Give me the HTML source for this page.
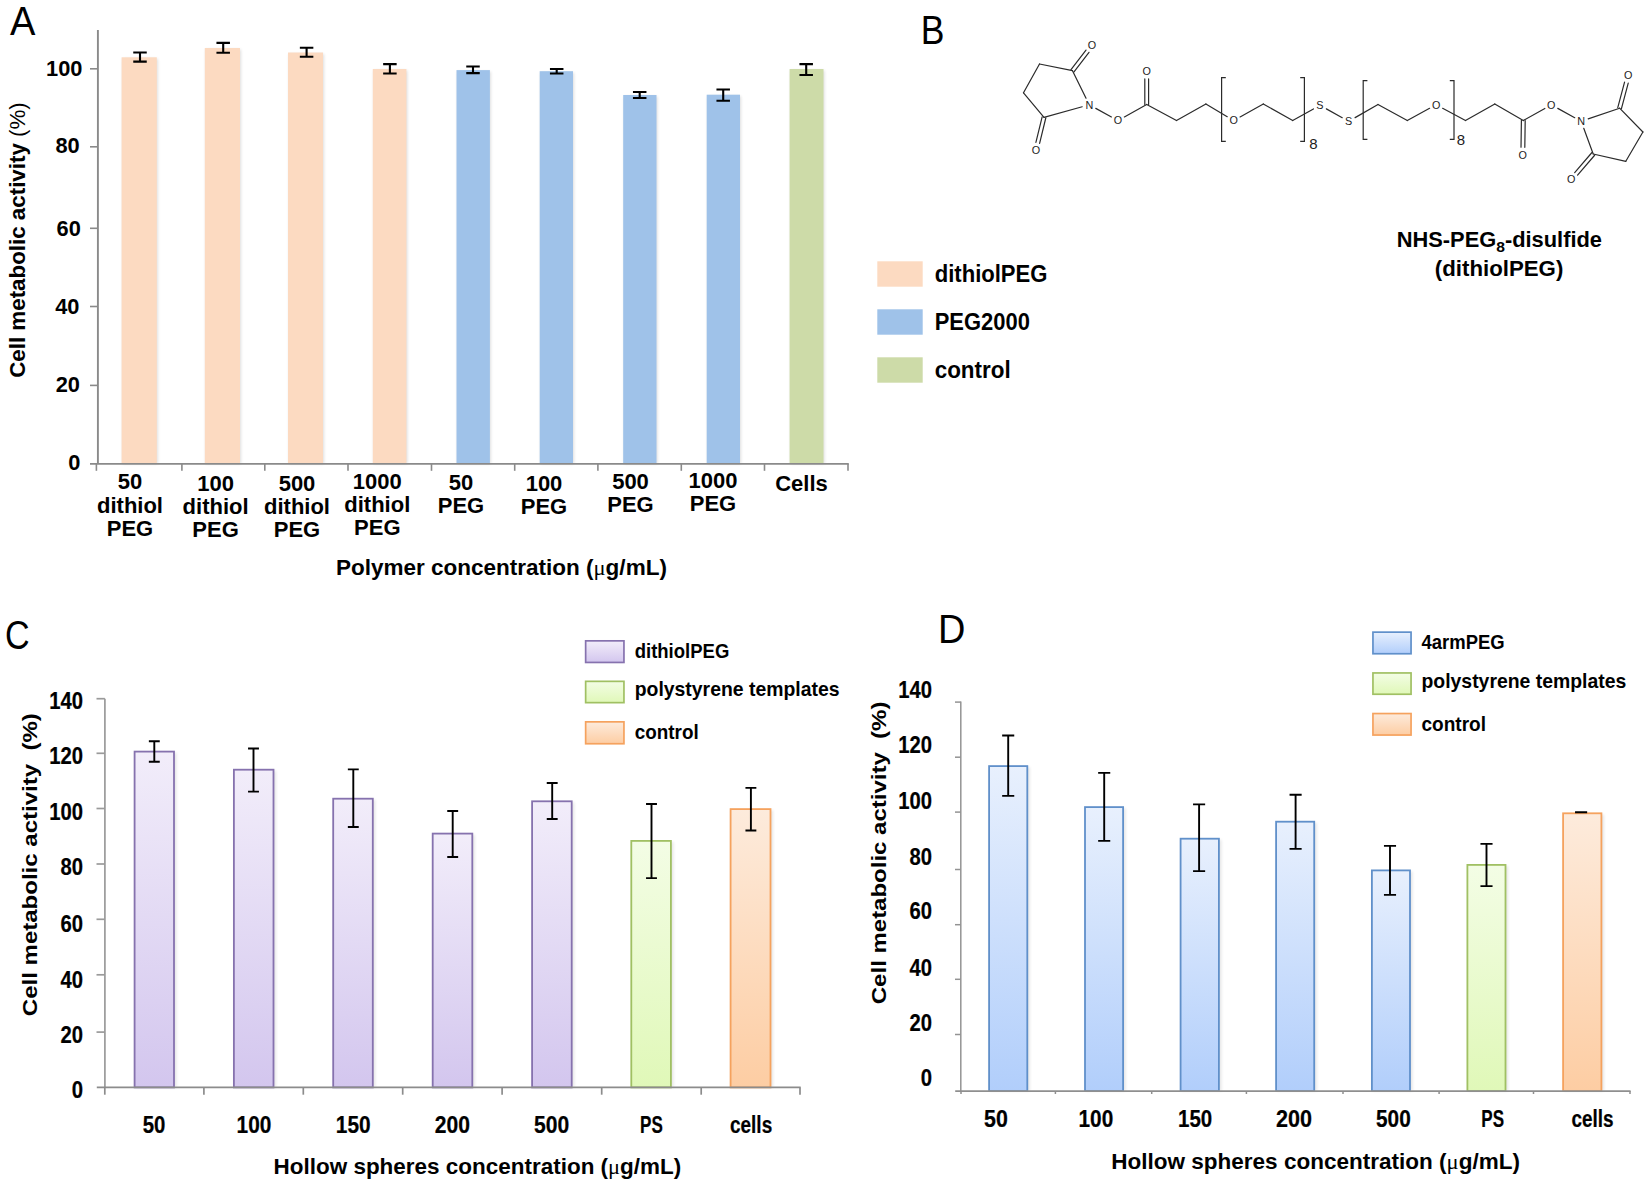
<!DOCTYPE html>
<html lang="en"><head><meta charset="utf-8"><title>Cell metabolic activity figure</title>
<style>html,body{margin:0;padding:0;background:#fff}svg{display:block}text{font-family:'Liberation Sans', sans-serif}</style>
</head><body>
<svg width="1650" height="1186" viewBox="0 0 1650 1186">
<defs>
<linearGradient id="gp" x1="0" y1="0" x2="0" y2="1"><stop offset="0" stop-color="#f2edfa"/><stop offset="1" stop-color="#d3c6ee"/></linearGradient>
<linearGradient id="gg" x1="0" y1="0" x2="0" y2="1"><stop offset="0" stop-color="#f3fde5"/><stop offset="1" stop-color="#e0f8b8"/></linearGradient>
<linearGradient id="go" x1="0" y1="0" x2="0" y2="1"><stop offset="0" stop-color="#fdebdc"/><stop offset="1" stop-color="#fdcda3"/></linearGradient>
<linearGradient id="gb" x1="0" y1="0" x2="0" y2="1"><stop offset="0" stop-color="#e8f0fd"/><stop offset="1" stop-color="#b1cefb"/></linearGradient>
<filter id="sh" x="-30%" y="-5%" width="160%" height="110%"><feGaussianBlur stdDeviation="1.6"/></filter>
</defs>
<rect width="1650" height="1186" fill="#fff"/>
<g id="panelA">
<text x="9.9" y="35" font-size="40" textLength="25.4" lengthAdjust="spacingAndGlyphs">A</text>
<rect x="122.6" y="58.8" width="35.2" height="405.1" fill="#000" opacity="0.13" filter="url(#sh)"/>
<rect x="205.8" y="49.5" width="35.2" height="414.4" fill="#000" opacity="0.13" filter="url(#sh)"/>
<rect x="289" y="54" width="35" height="409.9" fill="#000" opacity="0.13" filter="url(#sh)"/>
<rect x="373.8" y="70.5" width="33.6" height="393.4" fill="#000" opacity="0.13" filter="url(#sh)"/>
<rect x="457.5" y="71.6" width="33.4" height="392.3" fill="#000" opacity="0.13" filter="url(#sh)"/>
<rect x="540.7" y="72.7" width="33.3" height="391.2" fill="#000" opacity="0.13" filter="url(#sh)"/>
<rect x="624.2" y="96.5" width="33.3" height="367.4" fill="#000" opacity="0.13" filter="url(#sh)"/>
<rect x="707.7" y="96.2" width="33.3" height="367.7" fill="#000" opacity="0.13" filter="url(#sh)"/>
<rect x="790.6" y="70.5" width="33.9" height="393.4" fill="#000" opacity="0.13" filter="url(#sh)"/>
<rect x="121.6" y="57.3" width="35.2" height="406.6" fill="#fcdac1"/>
<rect x="204.8" y="48" width="35.2" height="415.9" fill="#fcdac1"/>
<rect x="288" y="52.5" width="35" height="411.4" fill="#fcdac1"/>
<rect x="372.8" y="69" width="33.6" height="394.9" fill="#fcdac1"/>
<rect x="456.5" y="70.1" width="33.4" height="393.8" fill="#9fc2e9"/>
<rect x="539.7" y="71.2" width="33.3" height="392.7" fill="#9fc2e9"/>
<rect x="623.2" y="95" width="33.3" height="368.9" fill="#9fc2e9"/>
<rect x="706.7" y="94.7" width="33.3" height="369.2" fill="#9fc2e9"/>
<rect x="789.6" y="69" width="33.9" height="394.9" fill="#cddba8"/>
<line x1="97.9" y1="30" x2="97.9" y2="463.9" stroke="#8a8a8a" stroke-width="1.9"/>
<line x1="90" y1="463.9" x2="848.8" y2="463.9" stroke="#8a8a8a" stroke-width="1.8"/>
<line x1="90" y1="68.8" x2="98" y2="68.8" stroke="#8a8a8a" stroke-width="1.6"/>
<line x1="90" y1="146.8" x2="98" y2="146.8" stroke="#8a8a8a" stroke-width="1.6"/>
<line x1="90" y1="228.3" x2="98" y2="228.3" stroke="#8a8a8a" stroke-width="1.6"/>
<line x1="90" y1="306.5" x2="98" y2="306.5" stroke="#8a8a8a" stroke-width="1.6"/>
<line x1="90" y1="385.4" x2="98" y2="385.4" stroke="#8a8a8a" stroke-width="1.6"/>
<line x1="96.4" y1="463.9" x2="96.4" y2="470.8" stroke="#8a8a8a" stroke-width="1.6"/>
<line x1="181.9" y1="463.9" x2="181.9" y2="470.8" stroke="#8a8a8a" stroke-width="1.6"/>
<line x1="264.8" y1="463.9" x2="264.8" y2="470.8" stroke="#8a8a8a" stroke-width="1.6"/>
<line x1="348" y1="463.9" x2="348" y2="470.8" stroke="#8a8a8a" stroke-width="1.6"/>
<line x1="431.5" y1="463.9" x2="431.5" y2="470.8" stroke="#8a8a8a" stroke-width="1.6"/>
<line x1="514.7" y1="463.9" x2="514.7" y2="470.8" stroke="#8a8a8a" stroke-width="1.6"/>
<line x1="597.9" y1="463.9" x2="597.9" y2="470.8" stroke="#8a8a8a" stroke-width="1.6"/>
<line x1="681.3" y1="463.9" x2="681.3" y2="470.8" stroke="#8a8a8a" stroke-width="1.6"/>
<line x1="764.5" y1="463.9" x2="764.5" y2="470.8" stroke="#8a8a8a" stroke-width="1.6"/>
<line x1="848" y1="463.9" x2="848" y2="470.8" stroke="#8a8a8a" stroke-width="1.6"/>
<text x="82.4" y="75.6" font-size="21.8" text-anchor="end" font-weight="bold">100</text>
<text x="79.7" y="152.6" font-size="21.8" text-anchor="end" font-weight="bold">80</text>
<text x="80.8" y="236.4" font-size="21.8" text-anchor="end" font-weight="bold">60</text>
<text x="79.5" y="313.7" font-size="21.8" text-anchor="end" font-weight="bold">40</text>
<text x="79.9" y="392" font-size="21.8" text-anchor="end" font-weight="bold">20</text>
<text x="80.3" y="470.2" font-size="21.8" text-anchor="end" font-weight="bold">0</text>
<path d="M133.25 52.55H146.75M133.25 61.65H146.75M140 52.55V61.65" stroke="#000" stroke-width="2.1" fill="none"/>
<path d="M216.45 42.85H229.95M216.45 52.75H229.95M223.2 42.85V52.75" stroke="#000" stroke-width="2.1" fill="none"/>
<path d="M299.85 47.75H313.35M299.85 56.75H313.35M306.6 47.75V56.75" stroke="#000" stroke-width="2.1" fill="none"/>
<path d="M383.15 64.15H396.65M383.15 73.45H396.65M389.9 64.15V73.45" stroke="#000" stroke-width="2.1" fill="none"/>
<path d="M466.25 66.45H479.75M466.25 73.15H479.75M473 66.45V73.15" stroke="#000" stroke-width="2.1" fill="none"/>
<path d="M549.95 68.95H563.45M549.95 73.55H563.45M556.7 68.95V73.55" stroke="#000" stroke-width="2.1" fill="none"/>
<path d="M632.95 92.05H646.45M632.95 97.95H646.45M639.7 92.05V97.95" stroke="#000" stroke-width="2.1" fill="none"/>
<path d="M716.45 89.55H729.95M716.45 100.75H729.95M723.2 89.55V100.75" stroke="#000" stroke-width="2.1" fill="none"/>
<path d="M799.45 64.15H812.95M799.45 74.95H812.95M806.2 64.15V74.95" stroke="#000" stroke-width="2.1" fill="none"/>
<text x="130" y="489.3" font-size="22" text-anchor="middle" font-weight="bold">50</text>
<text x="130" y="512.5" font-size="22" text-anchor="middle" font-weight="bold">dithiol</text>
<text x="130" y="535.7" font-size="22" text-anchor="middle" font-weight="bold">PEG</text>
<text x="215.6" y="490.7" font-size="22" text-anchor="middle" font-weight="bold">100</text>
<text x="215.6" y="513.9" font-size="22" text-anchor="middle" font-weight="bold">dithiol</text>
<text x="215.6" y="537.1" font-size="22" text-anchor="middle" font-weight="bold">PEG</text>
<text x="297" y="490.7" font-size="22" text-anchor="middle" font-weight="bold">500</text>
<text x="297" y="513.9" font-size="22" text-anchor="middle" font-weight="bold">dithiol</text>
<text x="297" y="537.1" font-size="22" text-anchor="middle" font-weight="bold">PEG</text>
<text x="377.3" y="488.8" font-size="22" text-anchor="middle" font-weight="bold">1000</text>
<text x="377.3" y="512" font-size="22" text-anchor="middle" font-weight="bold">dithiol</text>
<text x="377.3" y="535.2" font-size="22" text-anchor="middle" font-weight="bold">PEG</text>
<text x="461" y="489.9" font-size="22" text-anchor="middle" font-weight="bold">50</text>
<text x="461" y="513.1" font-size="22" text-anchor="middle" font-weight="bold">PEG</text>
<text x="544" y="491.2" font-size="22" text-anchor="middle" font-weight="bold">100</text>
<text x="544" y="514.4" font-size="22" text-anchor="middle" font-weight="bold">PEG</text>
<text x="630.5" y="488.8" font-size="22" text-anchor="middle" font-weight="bold">500</text>
<text x="630.5" y="512" font-size="22" text-anchor="middle" font-weight="bold">PEG</text>
<text x="713" y="488" font-size="22" text-anchor="middle" font-weight="bold">1000</text>
<text x="713" y="511.2" font-size="22" text-anchor="middle" font-weight="bold">PEG</text>
<text x="801.5" y="490.7" font-size="22" text-anchor="middle" font-weight="bold">Cells</text>
<text x="335.9" y="574.7" font-size="22" textLength="331" lengthAdjust="spacingAndGlyphs" font-weight="bold">Polymer concentration (<tspan font-family="'Liberation Serif', serif" font-weight="normal">μ</tspan>g/mL)</text>
<text transform="translate(24.9 377.8) rotate(-90)" font-size="22.2" font-weight="bold" textLength="275.6" lengthAdjust="spacingAndGlyphs">Cell metabolic activity <tspan font-weight="normal">(%)</tspan></text>
<rect x="877.3" y="261.3" width="45.4" height="25.4" fill="#fcdac1"/>
<text x="934.7" y="281.7" font-size="23.2" textLength="112.8" lengthAdjust="spacingAndGlyphs" font-weight="bold">dithiolPEG</text>
<rect x="877.3" y="309.3" width="45.4" height="25.4" fill="#9fc2e9"/>
<text x="934.7" y="329.7" font-size="23.2" textLength="95.2" lengthAdjust="spacingAndGlyphs" font-weight="bold">PEG2000</text>
<rect x="877.3" y="357.3" width="45.4" height="25.4" fill="#cddba8"/>
<text x="934.7" y="377.7" font-size="23.2" textLength="76" lengthAdjust="spacingAndGlyphs" font-weight="bold">control</text>
</g>
<g id="panelB">
<text x="920.8" y="43.9" font-size="40" textLength="23.7" lengthAdjust="spacingAndGlyphs">B</text>
<g stroke-linecap="round">
<line x1="1086.03" y1="98.16" x2="1072.5" y2="70.7" stroke="#2b2b2b" stroke-width="1.2"/>
<line x1="1072.5" y1="70.7" x2="1039.5" y2="64" stroke="#2b2b2b" stroke-width="1.2"/>
<line x1="1039.5" y1="64" x2="1023.5" y2="92.8" stroke="#2b2b2b" stroke-width="1.2"/>
<line x1="1023.5" y1="92.8" x2="1044" y2="117.3" stroke="#2b2b2b" stroke-width="1.2"/>
<line x1="1044" y1="117.3" x2="1082.17" y2="106.77" stroke="#2b2b2b" stroke-width="1.2"/>
<line x1="1095.79" y1="108.36" x2="1111.41" y2="116.94" stroke="#2b2b2b" stroke-width="1.2"/>
<line x1="1124.37" y1="116.91" x2="1146.7" y2="104.5" stroke="#2b2b2b" stroke-width="1.2"/>
<line x1="1146.7" y1="104.5" x2="1176.5" y2="120.5" stroke="#2b2b2b" stroke-width="1.2"/>
<line x1="1176.5" y1="120.5" x2="1205.9" y2="104" stroke="#2b2b2b" stroke-width="1.2"/>
<line x1="1205.9" y1="104" x2="1227.24" y2="116.71" stroke="#2b2b2b" stroke-width="1.2"/>
<line x1="1240.07" y1="116.91" x2="1263.3" y2="104" stroke="#2b2b2b" stroke-width="1.2"/>
<line x1="1263.3" y1="104" x2="1292.7" y2="120.5" stroke="#2b2b2b" stroke-width="1.2"/>
<line x1="1292.7" y1="120.5" x2="1313.44" y2="108.91" stroke="#2b2b2b" stroke-width="1.2"/>
<line x1="1326.37" y1="108.89" x2="1342.23" y2="117.71" stroke="#2b2b2b" stroke-width="1.2"/>
<line x1="1355.12" y1="117.62" x2="1378" y2="104.5" stroke="#2b2b2b" stroke-width="1.2"/>
<line x1="1378" y1="104.5" x2="1407.3" y2="120.5" stroke="#2b2b2b" stroke-width="1.2"/>
<line x1="1407.3" y1="120.5" x2="1429.6" y2="108.34" stroke="#2b2b2b" stroke-width="1.2"/>
<line x1="1442.63" y1="108.29" x2="1465.5" y2="120.5" stroke="#2b2b2b" stroke-width="1.2"/>
<line x1="1465.5" y1="120.5" x2="1494.8" y2="104" stroke="#2b2b2b" stroke-width="1.2"/>
<line x1="1494.8" y1="104" x2="1523.3" y2="120.5" stroke="#2b2b2b" stroke-width="1.2"/>
<line x1="1523.3" y1="120.5" x2="1544.85" y2="108.42" stroke="#2b2b2b" stroke-width="1.2"/>
<line x1="1557.78" y1="108.38" x2="1574.72" y2="117.72" stroke="#2b2b2b" stroke-width="1.2"/>
<line x1="1588.2" y1="118.91" x2="1619.6" y2="108.2" stroke="#2b2b2b" stroke-width="1.2"/>
<line x1="1583.75" y1="128.25" x2="1593.2" y2="154" stroke="#2b2b2b" stroke-width="1.2"/>
<line x1="1619.6" y1="108.2" x2="1642.9" y2="132" stroke="#2b2b2b" stroke-width="1.2"/>
<line x1="1642.9" y1="132" x2="1625.8" y2="161.3" stroke="#2b2b2b" stroke-width="1.2"/>
<line x1="1625.8" y1="161.3" x2="1593.2" y2="154" stroke="#2b2b2b" stroke-width="1.2"/>
<line x1="1074.01" y1="71.86" x2="1089" y2="52.33" stroke="#2b2b2b" stroke-width="1.2"/>
<line x1="1070.99" y1="69.54" x2="1085.99" y2="50.01" stroke="#2b2b2b" stroke-width="1.2"/>
<line x1="1042.15" y1="116.85" x2="1035.91" y2="142.46" stroke="#2b2b2b" stroke-width="1.2"/>
<line x1="1045.85" y1="117.75" x2="1039.6" y2="143.36" stroke="#2b2b2b" stroke-width="1.2"/>
<line x1="1148.6" y1="104.5" x2="1148.6" y2="78.9" stroke="#2b2b2b" stroke-width="1.2"/>
<line x1="1144.8" y1="104.5" x2="1144.8" y2="78.9" stroke="#2b2b2b" stroke-width="1.2"/>
<line x1="1521.4" y1="120.47" x2="1521.01" y2="147.27" stroke="#2b2b2b" stroke-width="1.2"/>
<line x1="1525.2" y1="120.53" x2="1524.81" y2="147.33" stroke="#2b2b2b" stroke-width="1.2"/>
<line x1="1621.44" y1="108.69" x2="1628.23" y2="83.14" stroke="#2b2b2b" stroke-width="1.2"/>
<line x1="1617.76" y1="107.71" x2="1624.56" y2="82.16" stroke="#2b2b2b" stroke-width="1.2"/>
<line x1="1591.76" y1="152.76" x2="1574.69" y2="172.55" stroke="#2b2b2b" stroke-width="1.2"/>
<line x1="1594.64" y1="155.24" x2="1577.57" y2="175.04" stroke="#2b2b2b" stroke-width="1.2"/>
</g>
<path d="M1225.8 77.6H1221.6V141.4H1225.8" fill="none" stroke="#2b2b2b" stroke-width="1.2"/>
<path d="M1300.2 77.6H1304.4V141.4H1300.2" fill="none" stroke="#2b2b2b" stroke-width="1.2"/>
<path d="M1367.4 80.6H1363.2V139.3H1367.4" fill="none" stroke="#2b2b2b" stroke-width="1.2"/>
<path d="M1449.8 80.6H1454V139.3H1449.8" fill="none" stroke="#2b2b2b" stroke-width="1.2"/>
<text x="1089.3" y="108.6" font-size="10.8" text-anchor="middle" fill="#222">N</text>
<text x="1092" y="49.1" font-size="10.8" text-anchor="middle" fill="#222">O</text>
<text x="1036" y="153.9" font-size="10.8" text-anchor="middle" fill="#222">O</text>
<text x="1117.9" y="124.3" font-size="10.8" text-anchor="middle" fill="#222">O</text>
<text x="1146.7" y="75.3" font-size="10.8" text-anchor="middle" fill="#222">O</text>
<text x="1233.6" y="124.3" font-size="10.8" text-anchor="middle" fill="#222">O</text>
<text x="1319.9" y="109.1" font-size="10.8" text-anchor="middle" fill="#222">S</text>
<text x="1348.7" y="125.1" font-size="10.8" text-anchor="middle" fill="#222">S</text>
<text x="1436.1" y="108.6" font-size="10.8" text-anchor="middle" fill="#222">O</text>
<text x="1522.8" y="158.5" font-size="10.8" text-anchor="middle" fill="#222">O</text>
<text x="1551.3" y="108.6" font-size="10.8" text-anchor="middle" fill="#222">O</text>
<text x="1581.2" y="125.1" font-size="10.8" text-anchor="middle" fill="#222">N</text>
<text x="1628.3" y="79.3" font-size="10.8" text-anchor="middle" fill="#222">O</text>
<text x="1571.3" y="183.2" font-size="10.8" text-anchor="middle" fill="#222">O</text>
<text x="1309.2" y="149.1" font-size="15" fill="#222">8</text>
<text x="1456.8" y="144.8" font-size="15" fill="#222">8</text>
<text x="1396.7" y="246.7" font-size="21.6" font-weight="bold" textLength="205.3" lengthAdjust="spacingAndGlyphs">NHS-PEG<tspan font-size="15.5" dy="5.5">8</tspan><tspan dy="-5.5">-disulfide</tspan></text>
<text x="1434.8" y="276" font-size="21.6" textLength="128.5" lengthAdjust="spacingAndGlyphs" font-weight="bold">(dithiolPEG)</text>
</g>
<g id="panelC">
<text x="5" y="649" font-size="40" textLength="24.6" lengthAdjust="spacingAndGlyphs">C</text>
<rect x="135.3" y="752.7" width="41.2" height="334.7" fill="#000" opacity="0.10" filter="url(#sh)"/>
<rect x="234.6" y="770.8" width="41.4" height="316.6" fill="#000" opacity="0.10" filter="url(#sh)"/>
<rect x="333.9" y="799.8" width="41.4" height="287.6" fill="#000" opacity="0.10" filter="url(#sh)"/>
<rect x="433.4" y="834.7" width="41.4" height="252.7" fill="#000" opacity="0.10" filter="url(#sh)"/>
<rect x="532.8" y="802.4" width="41.4" height="285" fill="#000" opacity="0.10" filter="url(#sh)"/>
<rect x="632" y="842" width="41.4" height="245.4" fill="#000" opacity="0.10" filter="url(#sh)"/>
<rect x="731.3" y="810.2" width="41.7" height="277.2" fill="#000" opacity="0.10" filter="url(#sh)"/>
<rect x="134.6" y="751.6" width="39.4" height="335.8" fill="url(#gp)" stroke="#8672ae" stroke-width="1.8"/>
<rect x="233.9" y="769.7" width="39.6" height="317.7" fill="url(#gp)" stroke="#8672ae" stroke-width="1.8"/>
<rect x="333.2" y="798.7" width="39.6" height="288.7" fill="url(#gp)" stroke="#8672ae" stroke-width="1.8"/>
<rect x="432.7" y="833.6" width="39.6" height="253.8" fill="url(#gp)" stroke="#8672ae" stroke-width="1.8"/>
<rect x="532.1" y="801.3" width="39.6" height="286.1" fill="url(#gp)" stroke="#8672ae" stroke-width="1.8"/>
<rect x="631.3" y="840.9" width="39.6" height="246.5" fill="url(#gg)" stroke="#a0c063" stroke-width="1.8"/>
<rect x="730.6" y="809.1" width="39.9" height="278.3" fill="url(#go)" stroke="#f5a25e" stroke-width="1.8"/>
<line x1="104.9" y1="698.7" x2="104.9" y2="1087.4" stroke="#9a9a9a" stroke-width="1.7"/>
<line x1="96.5" y1="698.7" x2="104.9" y2="698.7" stroke="#9a9a9a" stroke-width="1.7"/>
<line x1="96.5" y1="753.3" x2="104.9" y2="753.3" stroke="#9a9a9a" stroke-width="1.7"/>
<line x1="96.5" y1="808.5" x2="104.9" y2="808.5" stroke="#9a9a9a" stroke-width="1.7"/>
<line x1="96.5" y1="864" x2="104.9" y2="864" stroke="#9a9a9a" stroke-width="1.7"/>
<line x1="96.5" y1="919.3" x2="104.9" y2="919.3" stroke="#9a9a9a" stroke-width="1.7"/>
<line x1="96.5" y1="974.8" x2="104.9" y2="974.8" stroke="#9a9a9a" stroke-width="1.7"/>
<line x1="96.5" y1="1032.1" x2="104.9" y2="1032.1" stroke="#9a9a9a" stroke-width="1.7"/>
<line x1="96.8" y1="1087.4" x2="800.7" y2="1087.4" stroke="#8c8c8c" stroke-width="1.9"/>
<line x1="104.8" y1="1087.4" x2="104.8" y2="1094.7" stroke="#8c8c8c" stroke-width="1.7"/>
<line x1="203.9" y1="1087.4" x2="203.9" y2="1094.7" stroke="#8c8c8c" stroke-width="1.7"/>
<line x1="303.3" y1="1087.4" x2="303.3" y2="1094.7" stroke="#8c8c8c" stroke-width="1.7"/>
<line x1="402.7" y1="1087.4" x2="402.7" y2="1094.7" stroke="#8c8c8c" stroke-width="1.7"/>
<line x1="502.1" y1="1087.4" x2="502.1" y2="1094.7" stroke="#8c8c8c" stroke-width="1.7"/>
<line x1="601.7" y1="1087.4" x2="601.7" y2="1094.7" stroke="#8c8c8c" stroke-width="1.7"/>
<line x1="701.2" y1="1087.4" x2="701.2" y2="1094.7" stroke="#8c8c8c" stroke-width="1.7"/>
<line x1="800" y1="1087.4" x2="800" y2="1094.7" stroke="#8c8c8c" stroke-width="1.7"/>
<text x="83" y="709.2" font-size="23.3" text-anchor="end" textLength="33.8" lengthAdjust="spacingAndGlyphs" font-weight="bold" stroke="#000" stroke-width="0.22">140</text>
<text x="83" y="764" font-size="23.3" text-anchor="end" textLength="33.8" lengthAdjust="spacingAndGlyphs" font-weight="bold" stroke="#000" stroke-width="0.22">120</text>
<text x="83" y="820.2" font-size="23.3" text-anchor="end" textLength="33.8" lengthAdjust="spacingAndGlyphs" font-weight="bold" stroke="#000" stroke-width="0.22">100</text>
<text x="83" y="875" font-size="23.3" text-anchor="end" textLength="22.5" lengthAdjust="spacingAndGlyphs" font-weight="bold" stroke="#000" stroke-width="0.22">80</text>
<text x="83" y="932" font-size="23.3" text-anchor="end" textLength="22.5" lengthAdjust="spacingAndGlyphs" font-weight="bold" stroke="#000" stroke-width="0.22">60</text>
<text x="83" y="987.5" font-size="23.3" text-anchor="end" textLength="22.5" lengthAdjust="spacingAndGlyphs" font-weight="bold" stroke="#000" stroke-width="0.22">40</text>
<text x="83" y="1043.4" font-size="23.3" text-anchor="end" textLength="22.5" lengthAdjust="spacingAndGlyphs" font-weight="bold" stroke="#000" stroke-width="0.22">20</text>
<text x="83" y="1098" font-size="23.3" text-anchor="end" textLength="11.3" lengthAdjust="spacingAndGlyphs" font-weight="bold" stroke="#000" stroke-width="0.22">0</text>
<path d="M148.85 741.25H159.75M148.85 761.75H159.75M154.3 741.25V761.75" stroke="#000" stroke-width="1.9" fill="none"/>
<path d="M248.05 748.45H258.95M248.05 791.65H258.95M253.5 748.45V791.65" stroke="#000" stroke-width="1.9" fill="none"/>
<path d="M347.85 769.35H358.75M347.85 827.05H358.75M353.3 769.35V827.05" stroke="#000" stroke-width="1.9" fill="none"/>
<path d="M447.25 811.05H458.15M447.25 856.95H458.15M452.7 811.05V856.95" stroke="#000" stroke-width="1.9" fill="none"/>
<path d="M546.75 782.95H557.65M546.75 819.05H557.65M552.2 782.95V819.05" stroke="#000" stroke-width="1.9" fill="none"/>
<path d="M646.05 804.05H656.95M646.05 878.15H656.95M651.5 804.05V878.15" stroke="#000" stroke-width="1.9" fill="none"/>
<path d="M745.45 787.85H756.35M745.45 830.55H756.35M750.9 787.85V830.55" stroke="#000" stroke-width="1.9" fill="none"/>
<text x="142.7" y="1132.7" font-size="23.3" textLength="22.7" lengthAdjust="spacingAndGlyphs" font-weight="bold" stroke="#000" stroke-width="0.22">50</text>
<text x="236.6" y="1132.7" font-size="23.3" textLength="34.8" lengthAdjust="spacingAndGlyphs" font-weight="bold" stroke="#000" stroke-width="0.22">100</text>
<text x="335.8" y="1132.7" font-size="23.3" textLength="34.8" lengthAdjust="spacingAndGlyphs" font-weight="bold" stroke="#000" stroke-width="0.22">150</text>
<text x="434.8" y="1132.7" font-size="23.3" textLength="35.2" lengthAdjust="spacingAndGlyphs" font-weight="bold" stroke="#000" stroke-width="0.22">200</text>
<text x="534" y="1132.7" font-size="23.3" textLength="35.2" lengthAdjust="spacingAndGlyphs" font-weight="bold" stroke="#000" stroke-width="0.22">500</text>
<text x="640.1" y="1132.7" font-size="23.3" textLength="22.7" lengthAdjust="spacingAndGlyphs" font-weight="bold" stroke="#000" stroke-width="0.22">PS</text>
<text x="730" y="1132.7" font-size="23.3" textLength="42.2" lengthAdjust="spacingAndGlyphs" font-weight="bold" stroke="#000" stroke-width="0.22">cells</text>
<text x="273.5" y="1174" font-size="21.6" textLength="407.8" lengthAdjust="spacingAndGlyphs" font-weight="bold">Hollow spheres concentration (<tspan font-family="'Liberation Serif', serif" font-weight="normal">μ</tspan>g/mL)</text>
<text transform="translate(37.3 1016.2) rotate(-90)" font-size="20.5" font-weight="bold" textLength="303" lengthAdjust="spacingAndGlyphs" xml:space="preserve">Cell metabolic activity  (%)</text>
<rect x="585.65" y="640.85" width="38.3" height="21.6" fill="url(#gp)" stroke="#8672ae" stroke-width="1.7"/>
<text x="634.7" y="657.7" font-size="19.8" textLength="94.6" lengthAdjust="spacingAndGlyphs" font-weight="bold">dithiolPEG</text>
<rect x="585.65" y="681.35" width="38.3" height="21.3" fill="url(#gg)" stroke="#a0c063" stroke-width="1.7"/>
<text x="634.7" y="696.4" font-size="19.8" textLength="204.8" lengthAdjust="spacingAndGlyphs" font-weight="bold">polystyrene templates</text>
<rect x="585.65" y="721.85" width="38.3" height="21.9" fill="url(#go)" stroke="#f5a25e" stroke-width="1.7"/>
<text x="634.7" y="739.1" font-size="19.8" textLength="64" lengthAdjust="spacingAndGlyphs" font-weight="bold">control</text>
</g>
<g id="panelD">
<text x="937.9" y="642.8" font-size="40" textLength="27.4" lengthAdjust="spacingAndGlyphs">D</text>
<rect x="989.8" y="767.2" width="40" height="323.9" fill="#000" opacity="0.10" filter="url(#sh)"/>
<rect x="1085.7" y="808.2" width="39.9" height="282.9" fill="#000" opacity="0.10" filter="url(#sh)"/>
<rect x="1181.3" y="839.8" width="40.1" height="251.3" fill="#000" opacity="0.10" filter="url(#sh)"/>
<rect x="1276.8" y="822.8" width="39.9" height="268.3" fill="#000" opacity="0.10" filter="url(#sh)"/>
<rect x="1372.6" y="871.5" width="39.9" height="219.6" fill="#000" opacity="0.10" filter="url(#sh)"/>
<rect x="1468.1" y="866" width="39.9" height="225.1" fill="#000" opacity="0.10" filter="url(#sh)"/>
<rect x="1563.8" y="814.4" width="40.1" height="276.7" fill="#000" opacity="0.10" filter="url(#sh)"/>
<rect x="989.1" y="766.1" width="38.2" height="325" fill="url(#gb)" stroke="#6090ca" stroke-width="1.8"/>
<rect x="1085" y="807.1" width="38.1" height="284" fill="url(#gb)" stroke="#6090ca" stroke-width="1.8"/>
<rect x="1180.6" y="838.7" width="38.3" height="252.4" fill="url(#gb)" stroke="#6090ca" stroke-width="1.8"/>
<rect x="1276.1" y="821.7" width="38.1" height="269.4" fill="url(#gb)" stroke="#6090ca" stroke-width="1.8"/>
<rect x="1371.9" y="870.4" width="38.1" height="220.7" fill="url(#gb)" stroke="#6090ca" stroke-width="1.8"/>
<rect x="1467.4" y="864.9" width="38.1" height="226.2" fill="url(#gg)" stroke="#a0c063" stroke-width="1.8"/>
<rect x="1563.1" y="813.3" width="38.3" height="277.8" fill="url(#go)" stroke="#f5a25e" stroke-width="1.8"/>
<line x1="960.8" y1="701.6" x2="960.8" y2="1091.1" stroke="#939393" stroke-width="1.5"/>
<line x1="955" y1="702.1" x2="960.8" y2="702.1" stroke="#939393" stroke-width="1.5"/>
<line x1="955" y1="757.2" x2="960.8" y2="757.2" stroke="#939393" stroke-width="1.5"/>
<line x1="955" y1="812.1" x2="960.8" y2="812.1" stroke="#939393" stroke-width="1.5"/>
<line x1="955" y1="869.5" x2="960.8" y2="869.5" stroke="#939393" stroke-width="1.5"/>
<line x1="955" y1="924.7" x2="960.8" y2="924.7" stroke="#939393" stroke-width="1.5"/>
<line x1="955" y1="979.3" x2="960.8" y2="979.3" stroke="#939393" stroke-width="1.5"/>
<line x1="955" y1="1034.5" x2="960.8" y2="1034.5" stroke="#939393" stroke-width="1.5"/>
<line x1="955.2" y1="1091.1" x2="1630.6" y2="1091.1" stroke="#8f8f8f" stroke-width="1.8"/>
<line x1="961" y1="1091.1" x2="961" y2="1094" stroke="#8f8f8f" stroke-width="1.5"/>
<line x1="1055.4" y1="1091.1" x2="1055.4" y2="1094" stroke="#8f8f8f" stroke-width="1.5"/>
<line x1="1151.7" y1="1091.1" x2="1151.7" y2="1094" stroke="#8f8f8f" stroke-width="1.5"/>
<line x1="1246.4" y1="1091.1" x2="1246.4" y2="1094" stroke="#8f8f8f" stroke-width="1.5"/>
<line x1="1343" y1="1091.1" x2="1343" y2="1094" stroke="#8f8f8f" stroke-width="1.5"/>
<line x1="1439.1" y1="1091.1" x2="1439.1" y2="1094" stroke="#8f8f8f" stroke-width="1.5"/>
<line x1="1533.5" y1="1091.1" x2="1533.5" y2="1094" stroke="#8f8f8f" stroke-width="1.5"/>
<line x1="1630" y1="1091.1" x2="1630" y2="1094" stroke="#8f8f8f" stroke-width="1.5"/>
<text x="932.1" y="697.7" font-size="23.3" text-anchor="end" textLength="33.8" lengthAdjust="spacingAndGlyphs" font-weight="bold" stroke="#000" stroke-width="0.22">140</text>
<text x="932.1" y="753" font-size="23.3" text-anchor="end" textLength="33.8" lengthAdjust="spacingAndGlyphs" font-weight="bold" stroke="#000" stroke-width="0.22">120</text>
<text x="932.1" y="809.2" font-size="23.3" text-anchor="end" textLength="33.8" lengthAdjust="spacingAndGlyphs" font-weight="bold" stroke="#000" stroke-width="0.22">100</text>
<text x="932.1" y="864.5" font-size="23.3" text-anchor="end" textLength="22.5" lengthAdjust="spacingAndGlyphs" font-weight="bold" stroke="#000" stroke-width="0.22">80</text>
<text x="932.1" y="919.2" font-size="23.3" text-anchor="end" textLength="22.5" lengthAdjust="spacingAndGlyphs" font-weight="bold" stroke="#000" stroke-width="0.22">60</text>
<text x="932.1" y="975.8" font-size="23.3" text-anchor="end" textLength="22.5" lengthAdjust="spacingAndGlyphs" font-weight="bold" stroke="#000" stroke-width="0.22">40</text>
<text x="932.1" y="1031.3" font-size="23.3" text-anchor="end" textLength="22.5" lengthAdjust="spacingAndGlyphs" font-weight="bold" stroke="#000" stroke-width="0.22">20</text>
<text x="932.1" y="1086.1" font-size="23.3" text-anchor="end" textLength="11.3" lengthAdjust="spacingAndGlyphs" font-weight="bold" stroke="#000" stroke-width="0.22">0</text>
<path d="M1002.15 735.55H1014.25M1002.15 795.85H1014.25M1008.2 735.55V795.85" stroke="#000" stroke-width="1.9" fill="none"/>
<path d="M1098.15 772.85H1110.25M1098.15 840.85H1110.25M1104.2 772.85V840.85" stroke="#000" stroke-width="1.9" fill="none"/>
<path d="M1193.05 804.35H1205.15M1193.05 871.15H1205.15M1199.1 804.35V871.15" stroke="#000" stroke-width="1.9" fill="none"/>
<path d="M1289.55 794.75H1301.65M1289.55 848.85H1301.65M1295.6 794.75V848.85" stroke="#000" stroke-width="1.9" fill="none"/>
<path d="M1383.95 845.85H1396.05M1383.95 894.85H1396.05M1390 845.85V894.85" stroke="#000" stroke-width="1.9" fill="none"/>
<path d="M1480.45 843.85H1492.55M1480.45 886.15H1492.55M1486.5 843.85V886.15" stroke="#000" stroke-width="1.9" fill="none"/>
<path d="M1575.05 812.25H1587.15M1575.05 812.25H1587.15M1581.1 812.25V812.25" stroke="#000" stroke-width="1.9" fill="none"/>
<text x="984.1" y="1127" font-size="23.3" textLength="23.8" lengthAdjust="spacingAndGlyphs" font-weight="bold" stroke="#000" stroke-width="0.22">50</text>
<text x="1078.5" y="1127" font-size="23.3" textLength="34.7" lengthAdjust="spacingAndGlyphs" font-weight="bold" stroke="#000" stroke-width="0.22">100</text>
<text x="1178" y="1127" font-size="23.3" textLength="34.2" lengthAdjust="spacingAndGlyphs" font-weight="bold" stroke="#000" stroke-width="0.22">150</text>
<text x="1276" y="1127" font-size="23.3" textLength="36" lengthAdjust="spacingAndGlyphs" font-weight="bold" stroke="#000" stroke-width="0.22">200</text>
<text x="1376" y="1127" font-size="23.3" textLength="34.7" lengthAdjust="spacingAndGlyphs" font-weight="bold" stroke="#000" stroke-width="0.22">500</text>
<text x="1481.3" y="1127" font-size="23.3" textLength="22.7" lengthAdjust="spacingAndGlyphs" font-weight="bold" stroke="#000" stroke-width="0.22">PS</text>
<text x="1571.4" y="1127" font-size="23.3" textLength="42" lengthAdjust="spacingAndGlyphs" font-weight="bold" stroke="#000" stroke-width="0.22">cells</text>
<text x="1111.2" y="1168.7" font-size="21.6" textLength="408.8" lengthAdjust="spacingAndGlyphs" font-weight="bold">Hollow spheres concentration (<tspan font-family="'Liberation Serif', serif" font-weight="normal">μ</tspan>g/mL)</text>
<text transform="translate(886 1004.2) rotate(-90)" font-size="20.5" font-weight="bold" textLength="302.6" lengthAdjust="spacingAndGlyphs" xml:space="preserve">Cell metabolic activity  (%)</text>
<rect x="1372.95" y="632.15" width="38.1" height="21.6" fill="url(#gb)" stroke="#6090ca" stroke-width="1.7"/>
<text x="1421.5" y="649.1" font-size="19.8" textLength="83.2" lengthAdjust="spacingAndGlyphs" font-weight="bold">4armPEG</text>
<rect x="1372.95" y="672.95" width="38.1" height="21.3" fill="url(#gg)" stroke="#a0c063" stroke-width="1.7"/>
<text x="1421.5" y="687.7" font-size="19.8" textLength="204.8" lengthAdjust="spacingAndGlyphs" font-weight="bold">polystyrene templates</text>
<rect x="1372.95" y="713.55" width="38.1" height="21.5" fill="url(#go)" stroke="#f5a25e" stroke-width="1.7"/>
<text x="1421.5" y="730.9" font-size="19.8" textLength="64.5" lengthAdjust="spacingAndGlyphs" font-weight="bold">control</text>
</g>
</svg>
</body></html>
